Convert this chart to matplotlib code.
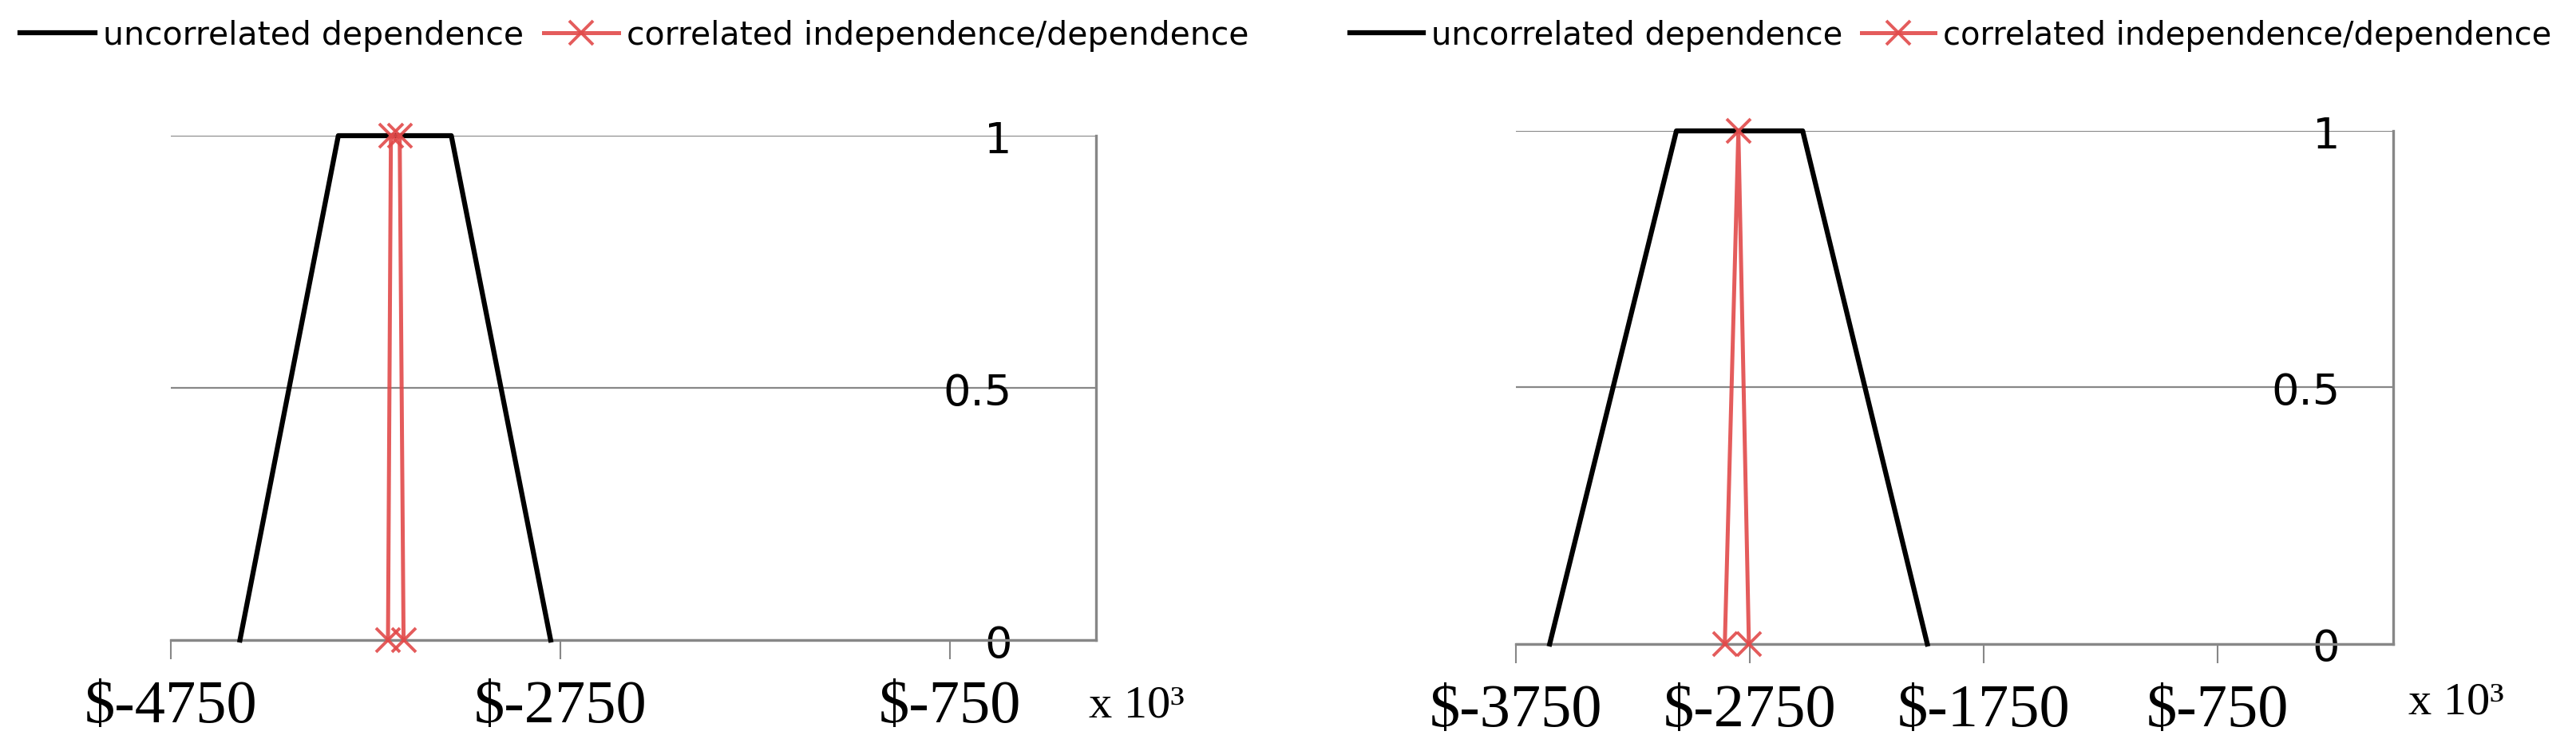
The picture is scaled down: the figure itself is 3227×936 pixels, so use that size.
import numpy as np
import matplotlib
matplotlib.use('Agg')
import matplotlib.pyplot as plt

# membership grades (0..1) of the fuzzy results, values in $ x 10^3
left_black_x = [-4395, -3890, -3310, -2800]
left_black_y = [0, 1, 1, 0]
left_red_x = [-3635, -3620, -3575, -3555]
left_red_y = [0, 1, 1, 0]
left_xticks = [-4750, -2750, -750]

right_black_x = [-3607, -3065, -2525, -1992]
right_black_y = [0, 1, 1, 0]
right_red_x = [-2858, -2800, -2755]
right_red_y = [0, 1, 0]
right_xticks = [-3750, -2750, -1750, -750]

yticks = [0, 0.5, 1]
ytick_labels = ['0', '0.5', '1']
series_names = ['uncorrelated dependence', 'correlated independence/dependence']

GRAY = '#878787'
RED = '#e24a4a'


def make_panel(fig, rect, xmin, xticks, bx, by, rx, ry, legend_x, legend_fs,
               unit_pos, ypad):
    ax = fig.add_axes(rect)
    ax.plot(bx, by, color='black', lw=4.5, clip_on=False, zorder=3,
            label=series_names[0])
    ax.plot(rx, ry, color=RED, lw=3.6, alpha=0.9, marker='x', ms=22,
            mew=2.8, clip_on=False, zorder=4, label=series_names[1])
    ax.set_xlim(xmin, 0)
    ax.set_ylim(0, 1)
    ax.set_xticks(xticks)
    ax.set_xticklabels(['$%d' % v for v in xticks], family='Liberation Serif',
                       fontsize=55)
    ax.set_yticks(yticks)
    ax.yaxis.tick_right()
    ax.set_yticklabels(ytick_labels, fontsize=39)
    for lab in ax.get_yticklabels():
        lab.set_ha('right')
    ax.tick_params(axis='y', length=0, pad=ypad)
    ax.tick_params(axis='x', length=17, width=1.5, color=GRAY, pad=18)
    ax.grid(axis='y', color=GRAY, lw=1.6)
    ax.set_axisbelow(True)
    for side in ['top', 'left']:
        ax.spines[side].set_visible(False)
    for side in ['bottom', 'right']:
        ax.spines[side].set_color(GRAY)
        ax.spines[side].set_linewidth(2.4)
    ax.legend(loc='center left', bbox_to_anchor=(legend_x, 0.952),
              bbox_transform=fig.transFigure, ncol=2, frameon=False,
              fontsize=legend_fs, handlelength=2.3, handletextpad=0.25,
              columnspacing=0.6, borderpad=0, borderaxespad=0, numpoints=1)
    fig.text(unit_pos[0], unit_pos[1], 'x 10\u00b3', family='Liberation Serif',
             fontsize=42, ha='left', va='center')
    return ax


fig = plt.figure(figsize=(32.27, 9.37), dpi=100)
make_panel(fig, [0.0663, 0.1430, 0.3592, 0.6745], -4750, left_xticks,
           left_black_x, left_black_y, left_red_x, left_red_y,
           0.0077, 29.5, (0.4226, 0.0560), -76)
make_panel(fig, [0.5886, 0.1377, 0.3404, 0.6862], -3750, right_xticks,
           right_black_x, right_black_y, right_red_x, right_red_y,
           0.5240, 28.8, (0.9350, 0.0600), -48)
fig.savefig('out.png', dpi=100)
